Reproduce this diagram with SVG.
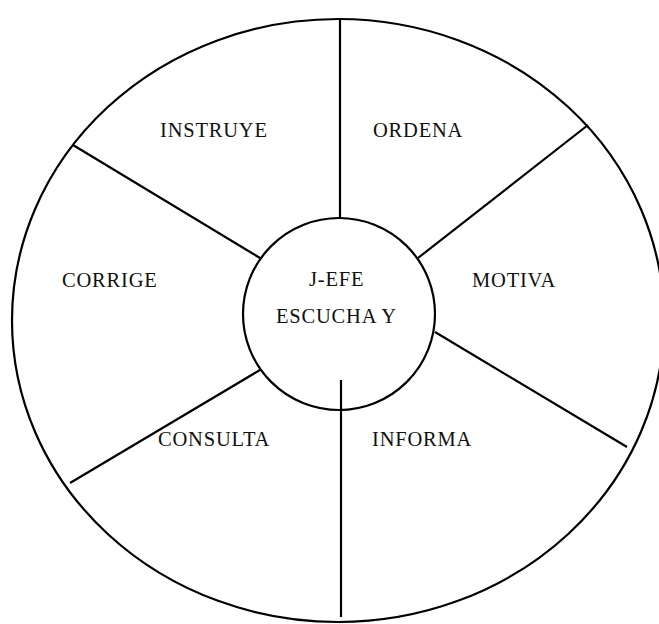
<svg xmlns="http://www.w3.org/2000/svg" width="659" height="624" viewBox="0 0 659 624">
<style>
.s{fill:none;stroke:#000;stroke-width:2.2}
text{font-family:"Liberation Serif","Times New Roman",serif;font-size:20.5px;letter-spacing:0.8px;fill:#111}
</style>
<rect width="659" height="624" fill="#fff"/>
<g id="outer"><ellipse class="s" cx="338" cy="320.5" rx="326" ry="301.5"/></g>
<g id="center"><circle cx="339" cy="314" r="96" fill="#fff" stroke="#000" stroke-width="2.2"/>
<text x="309" y="286">J-EFE</text><text x="276" y="323">ESCUCHA Y</text></g>
<g id="connectors">
<line class="s" x1="340" y1="19" x2="340" y2="218"/>
<line class="s" x1="341" y1="380" x2="341" y2="617"/>
<line class="s" x1="73" y1="145" x2="260" y2="258"/>
<line class="s" x1="588" y1="125" x2="418" y2="258"/>
<line class="s" x1="435" y1="332" x2="627" y2="447"/>
<line class="s" x1="260" y1="370" x2="70" y2="483"/>
</g>
<g id="instruye"><text x="160" y="137">INSTRUYE</text></g>
<g id="ordena"><text x="373" y="137">ORDENA</text></g>
<g id="corrige"><text x="62" y="287">CORRIGE</text></g>
<g id="motiva"><text x="472" y="287">MOTIVA</text></g>
<g id="consulta"><text x="158" y="446">CONSULTA</text></g>
<g id="informa"><text x="372" y="446">INFORMA</text></g>
</svg>
